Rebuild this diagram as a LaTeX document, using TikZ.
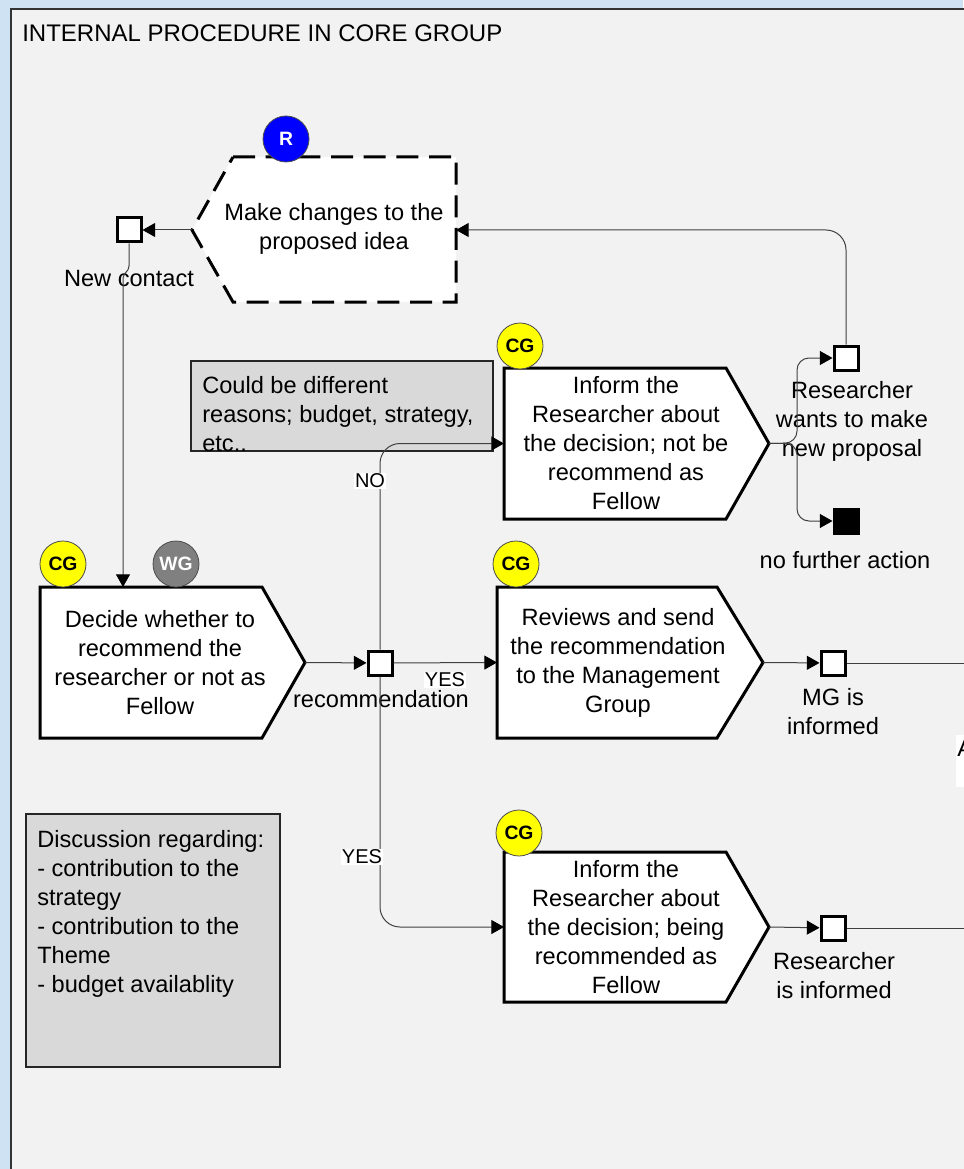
\documentclass[tikz,border=0pt]{standalone}
\usepackage{fontspec}
\setmainfont{Liberation Sans}
\usetikzlibrary{arrows.meta}
\definecolor{bgblue}{RGB}{207,226,243}
\definecolor{panel}{RGB}{242,242,242}
\definecolor{notegrey}{RGB}{217,217,217}
\definecolor{wggrey}{RGB}{128,128,128}
\definecolor{cgyellow}{RGB}{255,255,0}
\definecolor{rblue}{RGB}{0,0,255}
\definecolor{connc}{RGB}{64,64,64}
\newcommand\txtfont{\fontsize{17.7}{21.75}\selectfont}
\newcommand\titlefont{\fontsize{18}{21.75}\selectfont}
\newcommand\lblfont{\fontsize{15}{18}\selectfont}
\newcommand\badgefont{\fontsize{14.5}{16}\selectfont\bfseries}
% name, x1, y1, xtip, y2, xcorner
\newcommand\pentbox[6]{%
  \draw[pbox] (#2,#3) -- (#6,#3) -- (#4,{(#3+#5)/2}) -- (#6,#5) -- (#2,#5) -- cycle;
  \coordinate (#1-w) at (#2,{(#3+#5)/2});
  \coordinate (#1-tip) at (#4,{(#3+#5)/2});
}
\begin{document}
\begin{tikzpicture}[x=0.75pt,y=-0.75pt,
  conn/.style={draw=connc, line width=0.75pt},
  arr/.style={conn, -{Triangle[length=9.5pt,width=10.5pt,color=black,fill=black]}},
  pbox/.style={draw=black, line width=2.25pt, fill=white, line join=miter},
  dbox/.style={draw=black, line width=2.25pt, fill=white, dash pattern=on 16.5pt off 8pt},
  sqr/.style={rectangle, draw=black, line width=2.25pt, fill=white, minimum size=18pt, inner sep=0pt},
  sqrblack/.style={sqr, fill=black},
  badge/.style={circle, draw=black!70, line width=0.6pt, minimum size=34.5pt, inner sep=0pt, font=\badgefont},
  txt/.style={align=center, font=\txtfont, inner sep=0pt, text=black},
  lbl/.style={font=\lblfont, fill=white, inner sep=1pt, text=black},
  note/.style={draw=black!85, line width=1.1pt, fill=notegrey}
]
\useasboundingbox (0,0) rectangle (963,1169);
\fill[bgblue] (0,0) rectangle (963,1169);
\fill[panel] (11,9) rectangle (1000,1200);
\draw[black!80, line width=1.5pt] (1000,9) -- (11,9) -- (11,1200);

\node[txt, font=\titlefont, anchor=base west] (title) at (22,42) {INTERNAL PROCEDURE IN CORE GROUP};

% notes
\draw[note] (191,361) rectangle (493,451);
\node[txt, align=left, anchor=north west] (note1) at (202,376) {Could be different\\reasons; budget, strategy,\\etc..};
\draw[note] (26,814) rectangle (280,1067);
\node[txt, align=left, anchor=north west] (note2) at (37,830) {Discussion regarding:\\- contribution to the\\strategy\\- contribution to the\\Theme\\- budget availablity};

% dashed shape
\draw[dbox] (233,157) -- (456,157) -- (456,302) -- (233,302) -- (192,230) -- cycle;
\coordinate (mc-w) at (192,230);
\coordinate (mc-e) at (456,230);
\node[txt] (mc) at (334,229) {Make changes to the\\proposed idea};
\node[badge, fill=rblue, text=white] (bR) at (286,139) {R};

% process boxes
\pentbox{dec}{40}{587}{305}{738}{262}
\node[txt] (dectxt) at (160,663) {Decide whether to\\recommend the\\researcher or not as\\Fellow};
\coordinate (dec-in) at (123,587);
\node[badge, fill=cgyellow] (bdec1) at (63,564) {CG};
\node[badge, fill=wggrey, text=white] (bdec2) at (176,564) {WG};

\pentbox{rev}{497}{587}{763}{738}{717}
\node[txt] (revtxt) at (618,663) {Reviews and send\\the recommendation\\to the Management\\Group};
\node[badge, fill=cgyellow] (brev) at (516,564) {CG};

\pentbox{inn}{504}{368}{769}{519}{726}
\node[txt] (inntxt) at (626,443) {Inform the\\Researcher about\\the decision; not be\\recommend as\\Fellow};
\node[badge, fill=cgyellow] (binn) at (520,346) {CG};

\pentbox{inb}{504}{852}{769}{1002}{726}
\node[txt] (inbtxt) at (626,927) {Inform the\\Researcher about\\the decision; being\\recommended as\\Fellow};
\node[badge, fill=cgyellow] (binb) at (519,833) {CG};

% events
\node[sqr] (nc) at (129,230) {};
\node[txt] (nclbl) at (129,278) {New contact};
\node[sqr] (rec) at (380,663) {};
\node[txt] (reclbl) at (381,699) {recommendation};
\node[sqr] (mg) at (833,663) {};
\node[txt] (mglbl) at (833,712) {MG is\\informed};
\node[sqr] (rw) at (846,358) {};
\node[txt] (rwlbl) at (852,421) {Researcher\\wants to make\\new proposal};
\node[sqrblack] (nf) at (846,521) {};
\node[txt] (nflbl) at (845,560) {no further action};
\node[sqr] (ri) at (833,928) {};
\node[txt] (rilbl) at (834,976) {Researcher\\is informed};

\coordinate (mg-out) at (975,663);
\coordinate (ri-out) at (975,928);

% connectors
\draw[arr] (mc-w) -- (nc);
\draw[arr] (nc.south) -- (129,266) .. controls (129,272) and (123,272) .. (123,280) -- (dec-in);
\draw[arr] (dec-tip) -- (rec);
\draw[arr] (rec) -- (rev-w);
\draw[arr, rounded corners=15pt] (rec.north) |- (inn-w);
\draw[arr, rounded corners=15pt] (rec.south) |- (inb-w);
\draw[arr] (rev-tip) -- (mg);
\draw[conn] (mg) -- (mg-out);
\draw[arr, rounded corners=9pt] (inn-tip) -- (797,443) |- (rw.west);
\draw[arr, rounded corners=9pt] (inn-tip) -- (797,443) |- (nf.west);
\draw[arr, rounded corners=15pt] (rw.north) |- (mc-e);
\draw[arr] (inb-tip) -- (ri);
\draw[conn] (ri) -- (ri-out);

\node[lbl] (yes1) at (445,680) {YES};
\node[lbl] (no) at (370,481) {NO};
\node[lbl] (yes2) at (362,857) {YES};

% partially visible label at right edge (cut off in the reference too)
\fill[white] (956,735) rectangle (975,787);
\node[txt, anchor=west] (alb) at (957,748) {A};
\end{tikzpicture}
\end{document}
